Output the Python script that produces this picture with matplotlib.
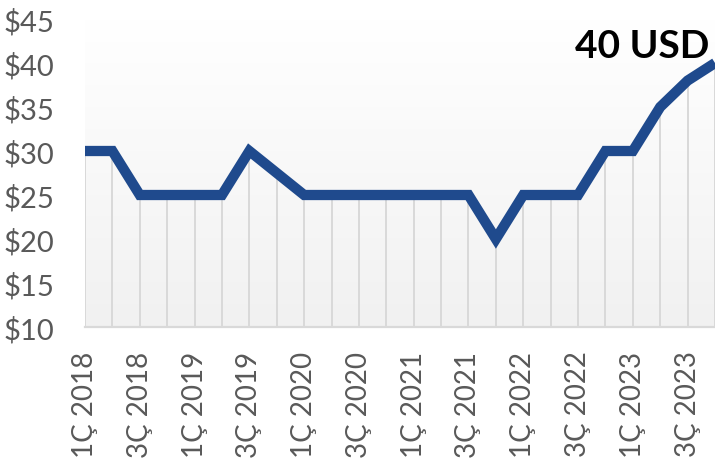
import matplotlib
matplotlib.use("Agg")
import matplotlib.pyplot as plt
import numpy as np

quarters = ["1Ç 2018", "2Ç 2018", "3Ç 2018", "4Ç 2018",
            "1Ç 2019", "2Ç 2019", "3Ç 2019", "4Ç 2019",
            "1Ç 2020", "2Ç 2020", "3Ç 2020", "4Ç 2020",
            "1Ç 2021", "2Ç 2021", "3Ç 2021", "4Ç 2021",
            "1Ç 2022", "2Ç 2022", "3Ç 2022", "4Ç 2022",
            "1Ç 2023", "2Ç 2023", "3Ç 2023", "4Ç 2023"]
prices = [30, 30, 25, 25, 25, 25, 30, 27.5,
          25, 25, 25, 25, 25, 25, 25, 20,
          25, 25, 25, 30, 30, 35, 38, 40]
yticks = [10, 15, 20, 25, 30, 35, 40, 45]
ytick_labels = ["$10", "$15", "$20", "$25", "$30", "$35", "$40", "$45"]
annotation = "40 USD"

plt.rcParams['font.family'] = ['Lato', 'DejaVu Sans']

W, H = 715, 464
fig = plt.figure(figsize=(W / 100, H / 100), dpi=100)
ax = fig.add_axes([85 / W, (H - 328) / H, (W - 85) / W, 308 / H])

x = np.arange(len(quarters))
xmin, xmax = 0, len(quarters) - 1
ax.set_xlim(xmin, xmax)
ax.set_ylim(10, 45)

# gradient background
grad = np.linspace(1.0, 0.945, 256).reshape(-1, 1)
ax.imshow(np.dstack([grad, grad, grad]), aspect='auto',
          extent=[xmin, xmax, 10, 45], origin='upper', zorder=0)

# drop lines
ax.vlines(x, 10, prices, colors='#d9d9d9', linewidth=1.4, zorder=1)

ax.plot(x, prices, color='#1F4A8D', linewidth=7.4, solid_joinstyle='miter',
        solid_capstyle='butt', zorder=3)

ax.annotate(annotation, xy=(x[-1], prices[-1]), xytext=(-4, 0),
            textcoords='offset points', ha='right', va='bottom',
            fontsize=28, fontweight='bold', color='black', zorder=4,
            annotation_clip=False)

for s in ['top', 'right', 'left']:
    ax.spines[s].set_visible(False)
ax.spines['bottom'].set_color('#d9d9d9')
ax.spines['bottom'].set_linewidth(1.6)

ax.set_yticks(yticks)
ax.set_yticklabels(ytick_labels)
ax.set_xticks(x[::2])
ax.set_xticklabels(quarters[::2], rotation=90, va='top', ha='center')
ax.tick_params(axis='y', length=0, pad=22, labelsize=21, labelcolor='#595959')
ax.tick_params(axis='x', length=0, pad=17, labelsize=20, labelcolor='#595959')

fig.savefig("out.png", dpi=100)
